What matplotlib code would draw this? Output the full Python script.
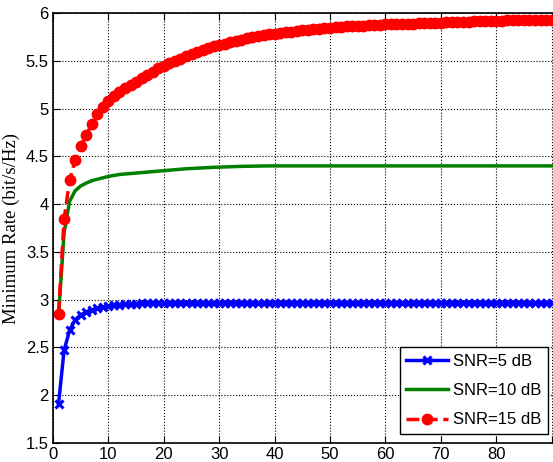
import numpy as np
import matplotlib
matplotlib.use('Agg')
import matplotlib.pyplot as plt

# sample index 1..90 (the plot is cut off on the right)
x = np.arange(1, 91)

snr5 = [1.91, 2.47, 2.68, 2.79, 2.84, 2.87, 2.89, 2.91, 2.92, 2.93,
        2.94, 2.945, 2.95, 2.955, 2.958, 2.96, 2.962, 2.964, 2.965, 2.966,
        2.967, 2.967, 2.968, 2.968, 2.968, 2.969, 2.969, 2.969, 2.969, 2.97,
        2.97, 2.97, 2.97, 2.97, 2.97, 2.97, 2.97, 2.97, 2.97, 2.97,
        2.97, 2.97, 2.97, 2.97, 2.97, 2.97, 2.97, 2.97, 2.97, 2.97,
        2.97, 2.97, 2.97, 2.97, 2.97, 2.97, 2.97, 2.97, 2.97, 2.97,
        2.97, 2.97, 2.97, 2.97, 2.97, 2.97, 2.97, 2.97, 2.97, 2.97,
        2.97, 2.97, 2.97, 2.97, 2.97, 2.97, 2.97, 2.97, 2.97, 2.97,
        2.97, 2.97, 2.97, 2.97, 2.97, 2.97, 2.97, 2.97, 2.97, 2.97]

snr10 = [2.83, 3.70, 4.03, 4.14, 4.19, 4.22, 4.245, 4.26, 4.275, 4.29,
         4.30, 4.31, 4.315, 4.32, 4.325, 4.33, 4.335, 4.34, 4.345, 4.35,
         4.355, 4.36, 4.365, 4.37, 4.373, 4.376, 4.379, 4.382, 4.385, 4.387,
         4.389, 4.391, 4.393, 4.395, 4.396, 4.397, 4.398, 4.399, 4.40, 4.40,
         4.40, 4.40, 4.40, 4.40, 4.40, 4.40, 4.40, 4.40, 4.40, 4.40,
         4.40, 4.40, 4.40, 4.40, 4.40, 4.40, 4.40, 4.40, 4.40, 4.40,
         4.40, 4.40, 4.40, 4.40, 4.40, 4.40, 4.40, 4.40, 4.40, 4.40,
         4.40, 4.40, 4.40, 4.40, 4.40, 4.40, 4.40, 4.40, 4.40, 4.40,
         4.40, 4.40, 4.40, 4.40, 4.40, 4.40, 4.40, 4.40, 4.40, 4.40]

snr15 = [2.85, 3.84, 4.25, 4.46, 4.61, 4.72, 4.84, 4.94, 5.02, 5.08,
         5.13, 5.17, 5.21, 5.25, 5.28, 5.32, 5.35, 5.38, 5.42, 5.45,
         5.48, 5.50, 5.52, 5.55, 5.57, 5.59, 5.61, 5.63, 5.65, 5.67,
         5.68, 5.70, 5.71, 5.72, 5.735, 5.745, 5.755, 5.765, 5.775, 5.785,
         5.79, 5.80, 5.805, 5.81, 5.82, 5.825, 5.83, 5.835, 5.84, 5.845,
         5.85, 5.855, 5.86, 5.862, 5.865, 5.868, 5.871, 5.874, 5.877, 5.88,
         5.882, 5.884, 5.886, 5.888, 5.89, 5.892, 5.894, 5.896, 5.898, 5.90,
         5.902, 5.904, 5.906, 5.908, 5.91, 5.912, 5.914, 5.916, 5.918, 5.92,
         5.921, 5.922, 5.923, 5.924, 5.925, 5.926, 5.927, 5.928, 5.929, 5.93]

yticks = [1.5, 2, 2.5, 3, 3.5, 4, 4.5, 5, 5.5, 6]
ytick_labels = ['1.5', '2', '2.5', '3', '3.5', '4', '4.5', '5', '5.5', '6']
xticks = [0, 10, 20, 30, 40, 50, 60, 70, 80, 90, 100]
# 90 and 100 fall on / past the cropped right edge
xtick_labels = ['0', '10', '20', '30', '40', '50', '60', '70', '80', '', '']

plt.rcParams['font.family'] = ['Liberation Sans', 'DejaVu Sans']

fig = plt.figure(figsize=(5.53, 4.62), dpi=100)
# axes runs past the right edge, like the cropped original
ax = fig.add_axes([53/553, 19/462, 554/553, 430/462])

ax.plot(x, snr5, color='blue', lw=2.5, marker='x', ms=6, mew=2.2, label='SNR=5 dB')
ax.plot(x, snr10, color=(0, 0.5, 0), lw=2.5, label='SNR=10 dB')
ax.plot(x, snr15, color='red', lw=2.5, ls='--', marker='o', ms=7.5, label='SNR=15 dB')

ax.set_xlim(0, 100)
ax.set_ylim(1.5, 6)
ax.set_xticks(xticks)
ax.set_xticklabels(xtick_labels)
ax.set_yticks(yticks)
ax.set_yticklabels(ytick_labels)
ax.tick_params(direction='in', labelsize=12, top=True, right=True, length=5, pad=3)
ax.grid(True, color='black', ls=':', lw=0.8)
for s in ax.spines.values():
    s.set_linewidth(1.2)

ax.set_ylabel('Minimum Rate (bit/s/Hz)', fontsize=13.5, family='Liberation Serif', labelpad=4)

leg = ax.legend(loc='lower right', bbox_to_anchor=(548/553, 28/462),
                bbox_transform=fig.transFigure, fontsize=12, fancybox=False,
                framealpha=1, edgecolor='black', handlelength=2.5,
                handletextpad=0.3, borderaxespad=0, borderpad=0.4,
                labelspacing=0.85)
leg.get_frame().set_linewidth(1)

fig.savefig('out.png', dpi=100)
